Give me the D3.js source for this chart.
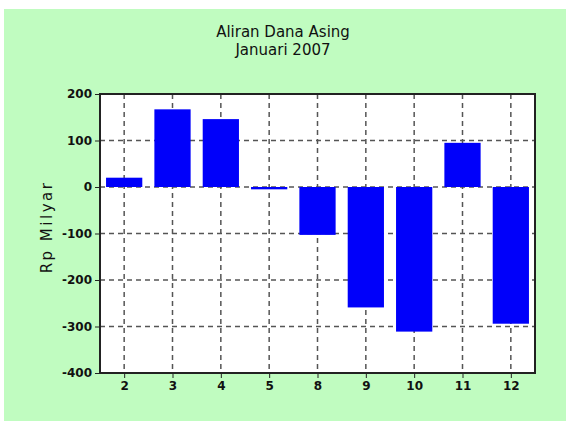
<!DOCTYPE html>
<html>
<head>
<meta charset="utf-8">
<script src="https://cdn.jsdelivr.net/npm/d3@7"></script>
<style>
  body { margin: 0; background: #fff; }
  text { font-family: "DejaVu Sans", sans-serif; fill: #111; }
</style>
</head>
<body>
<div id="chart"></div>
<script>
(function () {
  'use strict';

  var months = ['2', '3', '4', '5', '8', '9', '10', '11', '12'];
  var flows = [20, 167, 146, -5, -103, -259, -311, 95, -294];
  var yTicks = [200, 100, 0, -100, -200, -300, -400];

  var margin = { top: 94, right: 31, bottom: 48, left: 100 };
  var width = 566 - margin.left - margin.right;
  var height = 421 - margin.top - margin.bottom;

  var svg = d3.select('#chart')
      .append('svg')
      .attr('width', 566)
      .attr('height', 421);

  svg.append('rect')
     .attr('x', 4).attr('y', 9)
     .attr('width', 562).attr('height', 412)
     .attr('fill', '#c0fcc0');

  svg.append('text')
     .attr('x', 283).attr('y', 37)
     .attr('text-anchor', 'middle')
     .style('font-size', '15px')
     .text('Aliran Dana Asing');
  svg.append('text')
     .attr('x', 283).attr('y', 55)
     .attr('text-anchor', 'middle')
     .style('font-size', '15px')
     .text('Januari 2007');

  var g = svg.append('g')
      .attr('transform', 'translate(' + margin.left + ',' + margin.top + ')');

  var x = d3.scaleBand().domain(months).range([0, width]).paddingInner(0.25).paddingOuter(0.125);
  var xc = d3.scalePoint().domain(months).range([0, width]).padding(0.5);
  var y = d3.scaleLinear().domain([-400, 200]).range([height, 0]);

  g.append('rect')
   .attr('width', width).attr('height', height)
   .attr('fill', '#fff');

  // grid
  g.selectAll('.hgrid')
   .data(yTicks.filter(function (d) { return d > -400 && d < 200; }))
   .enter().append('line')
   .attr('x1', 0).attr('x2', width)
   .attr('y1', function (d) { return y(d); })
   .attr('y2', function (d) { return y(d); })
   .attr('stroke', '#555').attr('stroke-width', 1.5)
   .attr('stroke-dasharray', '5,4');
  g.selectAll('.vgrid')
   .data(months)
   .enter().append('line')
   .attr('x1', function (d) { return xc(d); })
   .attr('x2', function (d) { return xc(d); })
   .attr('y1', 0).attr('y2', height)
   .attr('stroke', '#555').attr('stroke-width', 1.5)
   .attr('stroke-dasharray', '5,4');

  g.selectAll('.bar')
   .data(flows)
   .enter().append('rect')
   .attr('x', function (d, i) { return x(months[i]); })
   .attr('width', x.bandwidth())
   .attr('y', function (d) { return y(Math.max(0, d)); })
   .attr('height', function (d) { return Math.abs(y(d) - y(0)); })
   .attr('fill', '#0000fa');

  g.append('rect')
   .attr('width', width).attr('height', height)
   .attr('fill', 'none').attr('stroke', '#222').attr('stroke-width', 2);

  var yAxis = g.append('g')
      .call(d3.axisLeft(y).tickValues(yTicks).tickSize(5).tickPadding(3)
        .tickFormat(function (d) { return String(d); }));
  yAxis.select('.domain').remove();
  yAxis.selectAll('text').style('font-size', '12px').style('font-weight', 'bold');
  yAxis.selectAll('line').attr('stroke', '#222');

  var xAxis = g.append('g')
      .attr('transform', 'translate(0,' + height + ')')
      .call(d3.axisBottom(xc).tickSize(5).tickPadding(3));
  xAxis.select('.domain').remove();
  xAxis.selectAll('text').style('font-size', '12px').style('font-weight', 'bold');
  xAxis.selectAll('line').attr('stroke', '#222');

  svg.append('text')
     .attr('transform', 'translate(52,227) rotate(-90)')
     .attr('text-anchor', 'middle')
     .style('font-size', '15px')
     .style('letter-spacing', '2.5px')
     .text('Rp Milyar');
}());
</script>
</body>
</html>
